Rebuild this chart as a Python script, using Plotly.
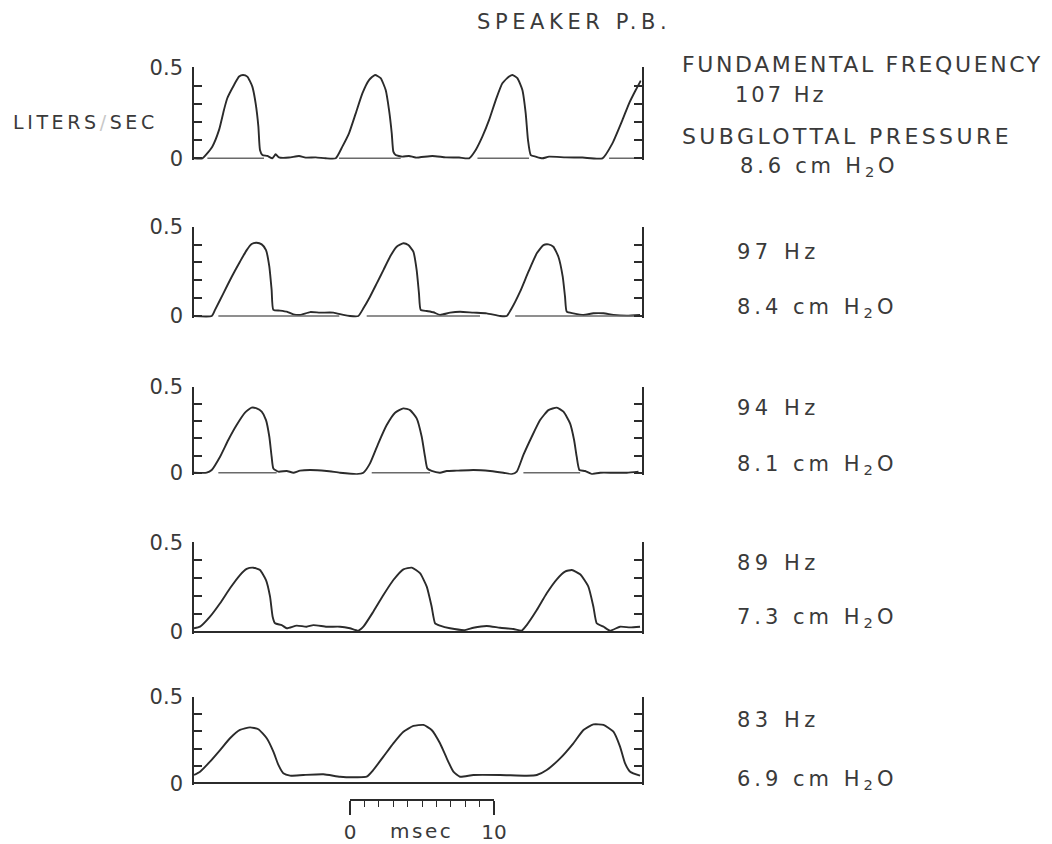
import plotly.graph_objects as go

# ---------------- DATA (time in msec, airflow in liters/sec) ----------------
p1_t = [0, 0.58, 0.81, 1.27, 1.74, 2.08, 2.31, 2.78, 3.13, 3.40, 3.70, 4.05, 4.28, 4.47, 4.58, 4.75, 5.09,
        5.44, 5.67, 5.90, 6.60, 7.29, 7.75, 8.45, 9.14, 9.84, 10.30, 10.76, 11.23, 11.69, 12.15, 12.57,
        12.96, 13.31, 13.54, 13.73, 13.84, 14.00, 14.47, 14.93, 15.39, 16.55, 17.48, 18.40, 19.10, 19.56,
        20.02, 20.49, 20.95, 21.41, 21.88, 22.11, 22.45, 22.80, 23.03, 23.19, 23.38, 23.73, 24.19, 24.65,
        25.81, 26.97, 28.36, 29.05, 29.75, 30.21, 30.67, 31.02]
p1_v = [0, 0, 0.018, 0.064, 0.156, 0.266, 0.33, 0.403, 0.449, 0.458, 0.449, 0.394, 0.302, 0.174, 0.046, 0.018,
        0.013, 0.0, 0.022, 0.005, 0.004, 0.013, 0.004, 0.005, 0.0, 0.0, 0.064, 0.137, 0.247, 0.357, 0.430,
        0.458, 0.44, 0.375, 0.266, 0.137, 0.037, 0.018, 0.009, 0.013, 0.004, 0.013, 0.005, 0.004, 0.0, 0.046,
        0.119, 0.211, 0.32, 0.412, 0.449, 0.458, 0.44, 0.375, 0.247, 0.10, 0.018, 0.009, 0.0, 0.009, 0.005,
        0.004, 0.0, 0.082, 0.211, 0.302, 0.375, 0.427]

p2_t = [0, 1.23, 1.46, 2.04, 2.62, 3.19, 3.66, 4.00, 4.35, 4.70, 5.00, 5.23, 5.39, 5.51, 5.97, 6.44, 6.90,
        7.36, 8.06, 8.75, 9.68, 10.37, 10.83, 11.41, 11.76, 12.22, 12.69, 13.15, 13.61, 14.07, 14.54, 14.88,
        15.23, 15.46, 15.62, 15.74, 16.16, 16.62, 17.08, 17.78, 18.47, 19.40, 20.32, 21.25, 21.71, 22.06,
        22.64, 23.22, 23.80, 24.26, 24.61, 24.95, 25.30, 25.60, 25.76, 25.88, 26.34, 27.04, 27.73, 28.43,
        29.12, 30.05, 30.97]
p2_v = [0, 0, 0.034, 0.127, 0.22, 0.304, 0.369, 0.403, 0.41, 0.401, 0.369, 0.276, 0.146, 0.034, 0.03, 0.024,
        0.009, 0.006, 0.022, 0.019, 0.019, 0.006, 0.0, 0.0, 0.043, 0.108, 0.183, 0.257, 0.332, 0.388, 0.407,
        0.397, 0.36, 0.257, 0.127, 0.034, 0.028, 0.021, 0.006, 0.019, 0.024, 0.019, 0.015, 0.0, 0.0, 0.043,
        0.136, 0.248, 0.351, 0.397, 0.401, 0.388, 0.332, 0.22, 0.108, 0.024, 0.015, 0.006, 0.015, 0.015,
        0.006, 0.002, 0.006]

p3_t = [0, 0.88, 1.23, 1.81, 2.38, 2.96, 3.54, 4.00, 4.35, 4.70, 5.00, 5.23, 5.39, 5.51, 5.86, 6.44, 6.90,
        7.36, 8.06, 9.21, 10.14, 11.30, 11.76, 12.22, 12.80, 13.38, 13.96, 14.54, 15.00, 15.46, 15.81, 16.04,
        16.20, 16.50, 17.08, 17.55, 18.24, 19.40, 20.56, 21.48, 22.06, 22.41, 22.87, 23.45, 24.03, 24.61,
        25.19, 25.65, 26.11, 26.39, 26.57, 26.76, 27.15, 27.62, 28.19, 29.12, 30.05, 30.86]
p3_v = [0, 0, 0.016, 0.093, 0.19, 0.277, 0.349, 0.378, 0.374, 0.355, 0.306, 0.209, 0.093, 0.025, 0.006, 0.01,
        0.0, 0.012, 0.016, 0.01, 0.0, -0.008, 0.0, 0.054, 0.171, 0.277, 0.349, 0.374, 0.364, 0.316, 0.209,
        0.093, 0.025, 0.01, 0.0, 0.01, 0.012, 0.016, 0.01, 0.0, -0.008, 0.006, 0.103, 0.209, 0.306, 0.364,
        0.378, 0.355, 0.287, 0.19, 0.093, 0.016, 0.01, -0.008, 0.0, 0.0, 0.0, 0.006]

p4_t = [0, 0.42, 1.11, 1.81, 2.50, 3.19, 3.66, 4.12, 4.58, 5.00, 5.28, 5.46, 5.63, 6.09, 6.44, 7.13, 7.82,
        8.29, 9.21, 10.14, 10.83, 11.41, 11.76, 12.45, 13.15, 13.84, 14.54, 15.12, 15.69, 16.16, 16.50,
        16.74, 17.08, 17.78, 18.82, 19.40, 20.32, 21.25, 22.18, 22.75, 23.10, 23.80, 24.49, 25.19, 25.76,
        26.23, 26.81, 27.38, 27.73, 27.96, 28.43, 28.89, 29.58, 30.28, 30.97]
p4_v = [0.019, 0.028, 0.084, 0.159, 0.243, 0.317, 0.351, 0.358, 0.345, 0.289, 0.196, 0.084, 0.047, 0.037,
        0.019, 0.034, 0.028, 0.037, 0.028, 0.028, 0.019, 0.006, 0.028, 0.112, 0.205, 0.289, 0.349, 0.358,
        0.327, 0.252, 0.14, 0.047, 0.034, 0.019, 0.009, 0.022, 0.032, 0.022, 0.015, 0.006, 0.037, 0.121,
        0.215, 0.293, 0.336, 0.345, 0.321, 0.252, 0.14, 0.047, 0.028, 0.006, 0.028, 0.024, 0.028]

p5_t = [0, 0.42, 1.11, 1.81, 2.50, 3.19, 3.89, 4.47, 5.05, 5.51, 5.86, 6.20, 6.67, 7.59, 8.98, 10.14, 11.06,
        11.99, 12.45, 13.15, 13.84, 14.54, 15.23, 15.93, 16.50, 17.08, 17.55, 18.01, 18.47, 19.40, 21.25,
        23.10, 23.80, 24.49, 25.42, 26.34, 27.04, 27.73, 28.43, 29.12, 29.58, 29.93, 30.28, 30.97]
p5_v = [0.048, 0.067, 0.125, 0.192, 0.26, 0.308, 0.323, 0.312, 0.26, 0.183, 0.106, 0.058, 0.044, 0.048,
        0.052, 0.038, 0.035, 0.038, 0.077, 0.154, 0.231, 0.298, 0.331, 0.337, 0.308, 0.231, 0.144, 0.067,
        0.038, 0.048, 0.048, 0.044, 0.048, 0.077, 0.144, 0.231, 0.308, 0.34, 0.337, 0.298, 0.212, 0.115,
        0.067, 0.044]

# zero-flow reference segments (msec) under the pulses, panels 1-3
p1_zero_start = [0.93, 10.07, 19.68, 28.82]
p1_zero_end = [4.86, 14.35, 23.26, 31.07]
p2_zero_start = [1.69, 11.99, 22.30]
p2_zero_end = [10.09, 19.86, 30.97]
p3_zero_start = [1.69, 12.34, 22.87]
p3_zero_end = [5.74, 16.39, 26.81]

freq_labels = ["107 Hz", "97 Hz", "94 Hz", "89 Hz", "83 Hz"]
pressure_labels = ["8.6 cm H<sub>2</sub>O", "8.4 cm H<sub>2</sub>O", "8.1 cm H<sub>2</sub>O",
                   "7.3 cm H<sub>2</sub>O", "6.9 cm H<sub>2</sub>O"]
y_tick_vals = [0, 0.5]
y_tick_text = ["0", "0.5"]
y_minor_vals = [0.1, 0.2, 0.3, 0.4]
x_max = 31.07
scale_ticks = [0, 10]
scale_tick_text = ["0", "10"]

# ---------------- LAYOUT ----------------
# page body has an 8px margin: figure is drawn 8px in from the window edge
OFF = 8
WIN_W, WIN_H = 1052, 844
W, H = WIN_W - OFF, WIN_H - OFF
FONT = "DejaVu Sans"
INK = "#2b2b2b"
TXT = "#3a3a3a"


def X(px):
    return (px - OFF) / W


def Y(py):
    return 1 - (py - OFF) / H


series = [(p1_t, p1_v), (p2_t, p2_v), (p3_t, p3_v), (p4_t, p4_v), (p5_t, p5_v)]
zeros = [(p1_zero_start, p1_zero_end), (p2_zero_start, p2_zero_end), (p3_zero_start, p3_zero_end), None, None]

# window-pixel rows: (y of 0.5, y of 0)
rows_px = [(67.3, 158.3), (226.7, 316.0), (386.7, 472.7), (542.3, 631.7), (696.7, 783.3)]
x_left_px, x_right_px = 194.0, 641.5
y_lo = -0.012

fig = go.Figure()
layout = dict(
    width=W, height=H, margin=dict(l=0, r=0, t=0, b=0, autoexpand=False),
    paper_bgcolor="white", plot_bgcolor="rgba(0,0,0,0)",
    showlegend=False, font=dict(family=FONT, color=TXT, size=20),
)

for i, (t, v) in enumerate(series):
    n = i + 1
    xa = "x" if n == 1 else f"x{n}"
    ya = "y" if n == 1 else f"y{n}"
    fig.add_trace(go.Scatter(x=t, y=v, xaxis=xa, yaxis=ya, mode="lines",
                             line=dict(color=INK, width=1.9, shape="spline", smoothing=0.5),
                             hoverinfo="skip"))
    if zeros[i] is not None:
        zx, zy = [], []
        for s, e in zip(*zeros[i]):
            zx += [s, e, None]
            zy += [0, 0, None]
        fig.add_trace(go.Scatter(x=zx, y=zy, xaxis=xa, yaxis=ya, mode="lines",
                                 line=dict(color="#6a6a6a", width=1.5), hoverinfo="skip"))
    top_px, zero_px = rows_px[i]
    ppu = (zero_px - top_px) / 0.5
    bot_px = zero_px - y_lo * ppu
    xkey = "xaxis" if n == 1 else f"xaxis{n}"
    ykey = "yaxis" if n == 1 else f"yaxis{n}"
    layout[xkey] = dict(domain=[X(x_left_px), X(x_right_px)], range=[0, x_max], anchor=ya,
                        visible=False, fixedrange=True)
    layout[ykey] = dict(domain=[Y(bot_px), Y(top_px)], range=[y_lo, 0.5], anchor=xa,
                        showline=True, linecolor=INK, linewidth=1.6, mirror="ticks",
                        ticks="inside", ticklen=8, tickwidth=1.5, tickcolor=INK,
                        tickvals=y_tick_vals, ticktext=y_tick_text,
                        minor=dict(tickvals=y_minor_vals, ticks="inside", ticklen=8, tickwidth=1.5,
                                   tickcolor=INK),
                        showgrid=False, zeroline=(zeros[i] is None), zerolinecolor=INK,
                        zerolinewidth=1.6, ticklabelstandoff=5,
                        tickfont=dict(family=FONT, size=21, color=TXT), fixedrange=True)

# scale bar (msec)
layout["xaxis6"] = dict(domain=[X(350), X(494)], range=[0, 10], anchor="y6",
                        showline=True, linecolor=INK, linewidth=1.5,
                        ticks="outside", ticklen=14, tickwidth=1.5, tickcolor=INK,
                        tickvals=scale_ticks, ticktext=scale_tick_text,
                        minor=dict(dtick=1, tick0=0, ticks="outside", ticklen=6, tickwidth=1.3,
                                   tickcolor=INK),
                        showgrid=False, zeroline=False,
                        tickfont=dict(family=FONT, size=20, color=TXT), fixedrange=True)
layout["yaxis6"] = dict(domain=[Y(799), Y(790)], range=[0, 1], anchor="x6",
                        visible=False, fixedrange=True)
fig.add_trace(go.Scatter(x=[None], y=[None], xaxis="x6", yaxis="y6", mode="lines", hoverinfo="skip"))

fig.update_layout(**layout)


def note(text, px, py, size=21, anchor="left", spacing=4.0):
    fig.add_annotation(text=f"<span style='letter-spacing:{spacing}px'>{text}</span>",
                       xref="paper", yref="paper", x=X(px), y=Y(py),
                       xanchor=anchor, yanchor="middle", showarrow=False,
                       font=dict(family=FONT, size=size, color=TXT))


note("SPEAKER P.B.", 574, 22, size=21, anchor="center", spacing=4.6)
note("LITERS<span style='color:#c8c8c8'>/</span>SEC", 85, 122, size=19, anchor="center", spacing=3.6)
note("FUNDAMENTAL FREQUENCY", 680, 65, size=22, spacing=2.6)
note(freq_labels[0], 733, 95, size=21, spacing=3.0)
note("SUBGLOTTAL PRESSURE", 680, 137, size=22, spacing=3.4)
note(pressure_labels[0], 738, 167, size=21, spacing=3.8)

freq_y = [252, 408, 563, 720]
pres_y = [308, 465, 618, 780]
for k in range(1, 5):
    note(freq_labels[k], 735, freq_y[k - 1], size=21, spacing=4.5)
    note(pressure_labels[k], 735, pres_y[k - 1], size=21, spacing=4.0)

note("msec", 421, 831, size=20, anchor="center", spacing=2.5)

fig.write_html("out.html")
